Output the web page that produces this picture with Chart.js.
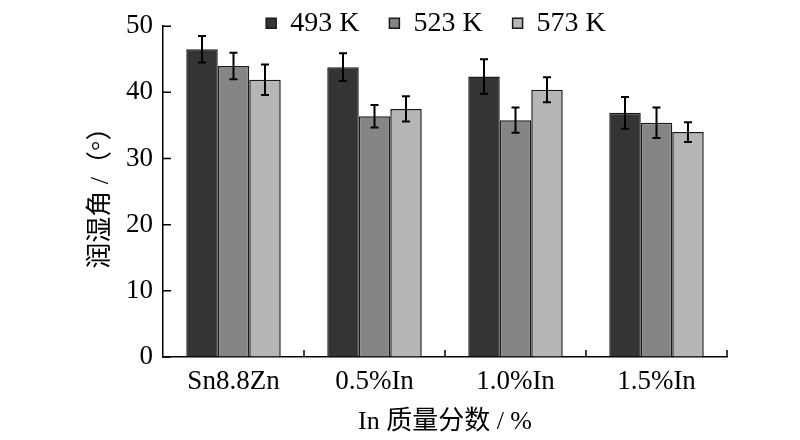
<!DOCTYPE html>
<html>
<head>
<meta charset="utf-8">
<script src="https://cdn.jsdelivr.net/npm/chart.js@4/dist/chart.umd.min.js"></script>
<style>
  html, body { margin: 0; padding: 0; background: #fff; }
  #wrap { width: 800px; height: 440px; }
</style>
</head>
<body>
<div id="wrap"><canvas id="wetChart" width="800" height="440"></canvas></div>
<script>
  const categories = ["Sn8.8Zn", "0.5%In", "1.0%In", "1.5%In"];
  const seriesNames = ["493 K", "523 K", "573 K"];
  const values493 = [46.5, 43.8, 42.4, 36.9];
  const values523 = [44.0, 36.4, 35.8, 35.4];
  const values573 = [41.9, 37.5, 40.4, 34.0];
  const errors493 = [2.0, 2.1, 2.6, 2.4];
  const errors523 = [2.0, 1.7, 1.9, 2.3];
  const errors573 = [2.3, 1.9, 1.9, 1.5];
  const yTicks = [0, 10, 20, 30, 40, 50];

  const serif = "'Liberation Serif', 'Noto Sans CJK SC', serif";
  const fills = ["#343434", "#858585", "#b6b6b6"];

  // thin black error bars, drawn from the values through the y scale
  const errorBars = {
    id: "errorBars",
    afterDatasetsDraw(chart) {
      const ctx = chart.ctx;
      const y = chart.scales.y;
      ctx.save();
      ctx.strokeStyle = "#000";
      ctx.lineWidth = 2;
      chart.data.datasets.forEach((ds, di) => {
        const meta = chart.getDatasetMeta(di);
        meta.data.forEach((bar, i) => {
          const v = ds.data[i], e = ds.errors[i];
          const top = y.getPixelForValue(v + e);
          const bot = y.getPixelForValue(v - e);
          ctx.beginPath();
          ctx.moveTo(bar.x, top); ctx.lineTo(bar.x, bot);
          ctx.moveTo(bar.x - 4, top); ctx.lineTo(bar.x + 4, top);
          ctx.moveTo(bar.x - 4, bot); ctx.lineTo(bar.x + 4, bot);
          ctx.stroke();
        });
      });
      ctx.restore();
    }
  };

  // ticks pointing into the plot, like the original figure
  const innerTicks = {
    id: "innerTicks",
    afterDraw(chart) {
      const ctx = chart.ctx;
      const { x, y } = chart.scales;
      const area = chart.chartArea;
      ctx.save();
      ctx.strokeStyle = "#000";
      ctx.lineWidth = 1.5;
      ctx.beginPath();
      yTicks.forEach(v => {
        const py = y.getPixelForValue(v);
        ctx.moveTo(area.left, py); ctx.lineTo(area.left + 8, py);
      });
      for (let i = 1; i <= categories.length; i++) {
        const px = x.getPixelForValue(i - 0.5);
        ctx.moveTo(px, area.bottom); ctx.lineTo(px, area.bottom - 7);
      }
      ctx.stroke();
      ctx.restore();
    }
  };

  // let the legend sit partly over the top of the plot
  const legendHeight = {
    id: "legendHeight",
    beforeUpdate(chart) {
      const lg = chart.legend;
      if (lg && !lg._patched) {
        const fit = lg.fit;
        lg.fit = function () { fit.call(this); this.height = 47; };
        lg._patched = true;
      }
    },
    afterLayout(chart) {
      // grow the legend box again after layout so its clip does not cut the text,
      // and nudge it a little to the left as in the figure
      const lg = chart.legend;
      if (lg) {
        lg.height = 90; lg.bottom = lg.top + 90;
        lg.left -= 9; lg.right -= 9;
      }
    }
  };

  const ctx = document.getElementById("wetChart").getContext("2d");
  new Chart(ctx, {
    type: "bar",
    data: {
      labels: categories,
      datasets: [
        { label: seriesNames[0], data: values493, errors: errors493, backgroundColor: fills[0] },
        { label: seriesNames[1], data: values523, errors: errors523, backgroundColor: fills[1] },
        { label: seriesNames[2], data: values573, errors: errors573, backgroundColor: fills[2] }
      ].map(d => Object.assign(d, { borderColor: "#1a1a1a", borderWidth: 1.5 }))
    },
    options: {
      responsive: false,
      animation: false,
      layout: { padding: { left: 0, right: 73, top: -24, bottom: 0 } },
      datasets: { bar: { categoryPercentage: 0.67, barPercentage: 1.0 } },
      plugins: {
        tooltip: { enabled: false },
        legend: {
          position: "top",
          fullSize: false,
          labels: {
            boxWidth: 10,
            boxHeight: 10,
            padding: 30,
            color: "#000",
            font: { family: serif, size: 28 }
          }
        }
      },
      scales: {
        x: {
          grid: { display: true, drawOnChartArea: false, drawTicks: false },
          border: { display: true, color: "#000", width: 1.5 },
          ticks: { color: "#000", padding: 9, font: { family: serif, size: 27 } },
          title: {
            display: true,
            text: "In 质量分数 / %",
            color: "#000",
            padding: { top: 0, bottom: 2 },
            font: { family: serif, size: 26 }
          },
          afterFit(scale) { scale.height = 83; }
        },
        y: {
          min: 0,
          max: 50,
          grid: { display: true, drawOnChartArea: false, drawTicks: false },
          border: { display: true, color: "#000", width: 1.5 },
          ticks: { stepSize: 10, color: "#000", padding: 10, font: { family: serif, size: 27 } },
          title: {
            display: true,
            text: "润湿角 /（°）",
            color: "#000",
            padding: { top: 86, bottom: 0 },
            font: { family: serif, size: 26 }
          },
          afterFit(scale) { scale.width = 163; }
        }
      }
    },
    plugins: [errorBars, innerTicks, legendHeight]
  });
</script>
</body>
</html>
